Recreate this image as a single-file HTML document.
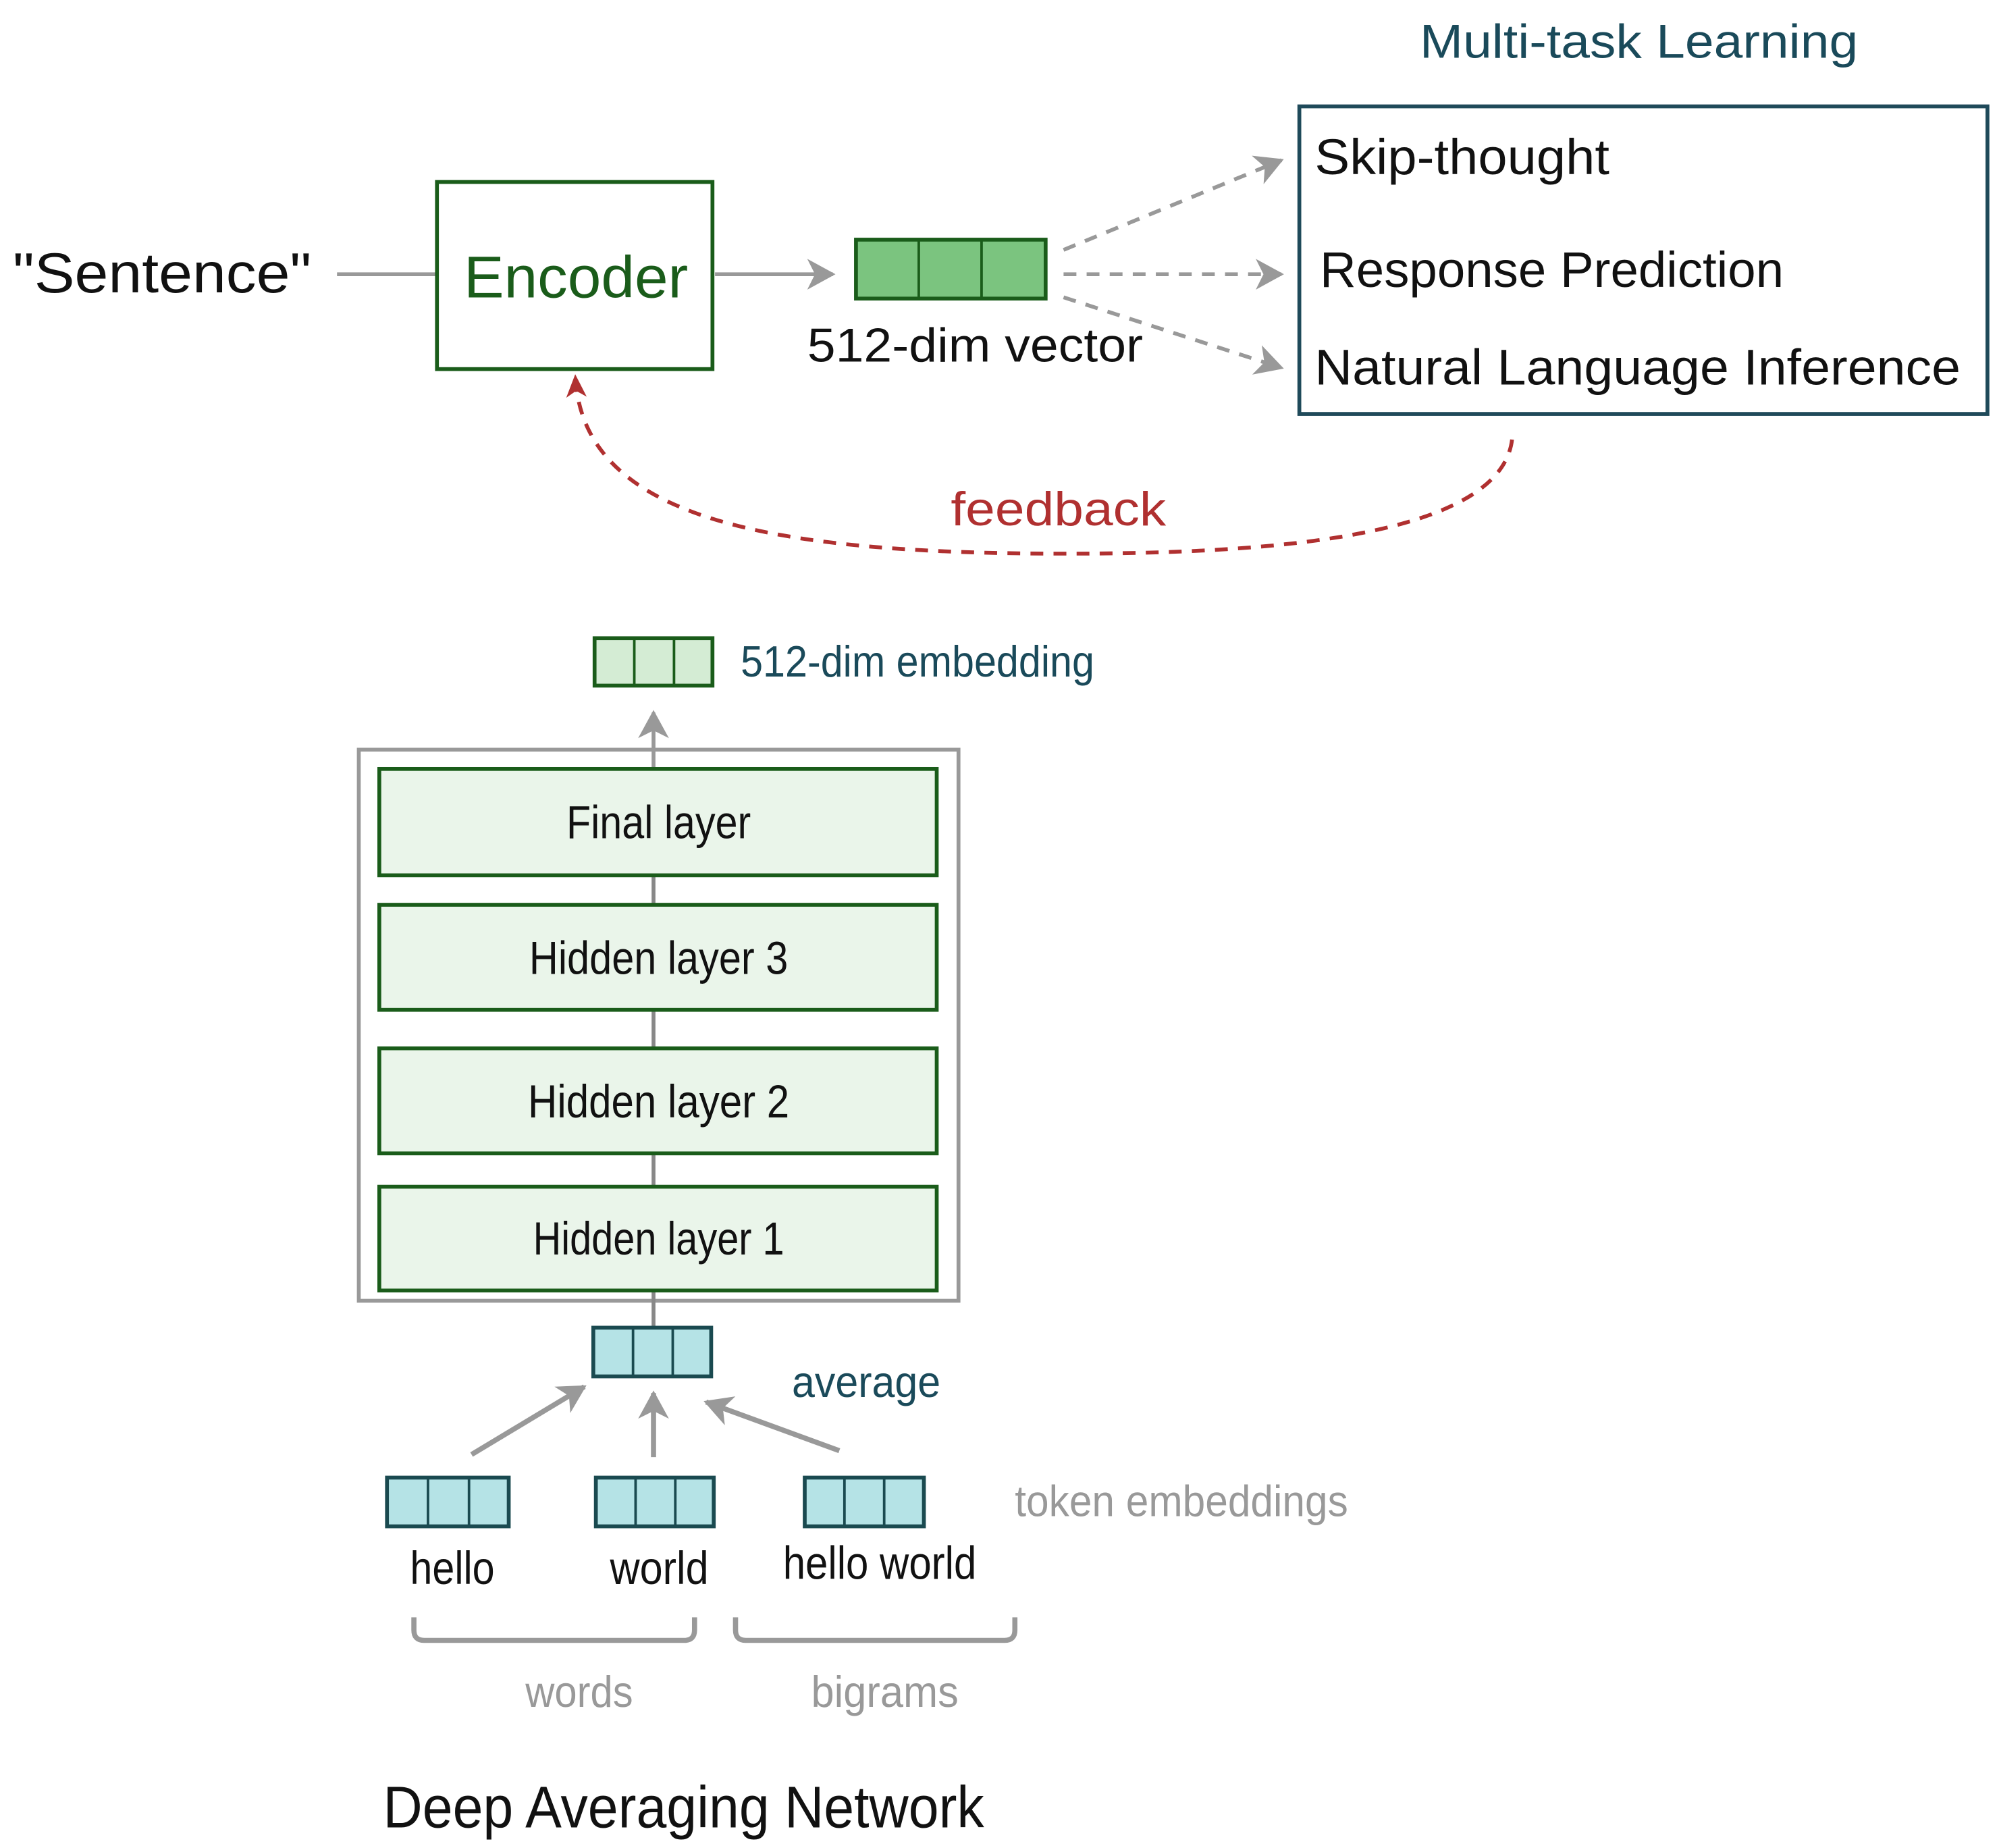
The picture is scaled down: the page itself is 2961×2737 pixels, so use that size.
<!DOCTYPE html>
<html><head><meta charset="utf-8"><style>
html,body{margin:0;padding:0;background:#fff;}
svg{display:block;}
text{font-family:"Liberation Sans","DejaVu Sans",sans-serif;}
</style></head><body>
<svg width="2961" height="2737" viewBox="0 0 1560 1442" xmlns="http://www.w3.org/2000/svg">
<defs>
<marker id="ag2" markerWidth="24" markerHeight="24" refX="20" refY="12" orient="auto" markerUnits="userSpaceOnUse"><path d="M0,0 L22,12 L0,24 L6,12 Z" fill="#999"/></marker>
<marker id="ar" markerWidth="20" markerHeight="20" refX="16" refY="10" orient="auto" markerUnits="userSpaceOnUse"><path d="M0,2 L18,10 L0,18 L5,10 Z" fill="#b03030"/></marker>
</defs>
<rect width="1560" height="1442" fill="#fff"/>
<text x="1108" y="45" font-size="37" fill="#1a4a5a" textLength="342" lengthAdjust="spacingAndGlyphs">Multi-task Learning</text>
<rect x="1014" y="83" width="537" height="240" fill="none" stroke="#1f4a5a" stroke-width="3"/>
<text x="1026" y="136" font-size="39" fill="#111" textLength="230" lengthAdjust="spacingAndGlyphs">Skip-thought</text>
<text x="1030" y="224" font-size="39" fill="#111" textLength="362" lengthAdjust="spacingAndGlyphs">Response Prediction</text>
<text x="1026" y="300" font-size="39" fill="#111" textLength="504" lengthAdjust="spacingAndGlyphs">Natural Language Inference</text>
<text x="10" y="228" font-size="44" fill="#111" textLength="233" lengthAdjust="spacingAndGlyphs">"Sentence"</text>
<line x1="263" y1="214" x2="340" y2="214" stroke="#999" stroke-width="3"/>
<rect x="341" y="142" width="215" height="146" fill="#fff" stroke="#1a5c1a" stroke-width="3"/>
<text x="362" y="232" font-size="46" fill="#1a5c1a" textLength="175" lengthAdjust="spacingAndGlyphs">Encoder</text>
<line x1="558" y1="214" x2="650" y2="214" stroke="#999" stroke-width="3" marker-end="url(#ag2)"/>
<rect x="668" y="187" width="148" height="46" fill="#7bc47f" stroke="#1a5c1a" stroke-width="3"/>
<line x1="717" y1="187" x2="717" y2="233" stroke="#1a5c1a" stroke-width="2"/>
<line x1="766" y1="187" x2="766" y2="233" stroke="#1a5c1a" stroke-width="2"/>
<text x="630" y="282" font-size="37" fill="#111" textLength="262" lengthAdjust="spacingAndGlyphs">512-dim vector</text>
<g stroke="#999" stroke-width="3" stroke-dasharray="10,8" fill="none">
<line x1="830" y1="195" x2="1000" y2="125" marker-end="url(#ag2)"/>
<line x1="830" y1="214" x2="1000" y2="214" marker-end="url(#ag2)"/>
<line x1="830" y1="232" x2="1000" y2="287" marker-end="url(#ag2)"/>
</g>
<path d="M1180,343 C1170,425 960,432 830,432 C600,432 455,405 449,294" fill="none" stroke="#b03030" stroke-width="3" stroke-dasharray="10,8" marker-end="url(#ar)"/>
<text x="742" y="410" font-size="37" fill="#b03030" textLength="168" lengthAdjust="spacingAndGlyphs">feedback</text>
<rect x="464" y="498" width="92" height="37" fill="#d4ecd4" stroke="#1a5c1a" stroke-width="3"/>
<line x1="495" y1="498" x2="495" y2="535" stroke="#1a5c1a" stroke-width="2"/>
<line x1="526" y1="498" x2="526" y2="535" stroke="#1a5c1a" stroke-width="2"/>
<text x="578" y="528" font-size="34" fill="#1a4a5a" textLength="276" lengthAdjust="spacingAndGlyphs">512-dim embedding</text>
<line x1="510" y1="600" x2="510" y2="556" stroke="#999" stroke-width="3" marker-end="url(#ag2)"/>
<rect x="280" y="585" width="468" height="430" fill="none" stroke="#999" stroke-width="3"/>
<line x1="510" y1="683" x2="510" y2="1036" stroke="#888" stroke-width="3"/>
<g fill="#eaf5ea" stroke="#1a5c1a" stroke-width="3">
<rect x="296" y="600" width="435" height="83"/>
<rect x="296" y="706" width="435" height="82"/>
<rect x="296" y="818" width="435" height="82"/>
<rect x="296" y="926" width="435" height="81"/>
</g>
<g font-size="36" fill="#111">
<text x="442" y="654" textLength="144" lengthAdjust="spacingAndGlyphs">Final layer</text>
<text x="413" y="760" textLength="202" lengthAdjust="spacingAndGlyphs">Hidden layer 3</text>
<text x="412" y="872" textLength="204" lengthAdjust="spacingAndGlyphs">Hidden layer 2</text>
<text x="416" y="979" textLength="196" lengthAdjust="spacingAndGlyphs">Hidden layer 1</text>
</g>
<g fill="#b5e3e6" stroke="#1a4a50" stroke-width="3">
<rect x="463" y="1036" width="92" height="38"/>
<rect x="302" y="1153" width="95" height="38"/>
<rect x="465" y="1153" width="92" height="38"/>
<rect x="628" y="1153" width="93" height="38"/>
</g>
<g stroke="#1a4a50" stroke-width="2">
<line x1="494" y1="1036" x2="494" y2="1074"/><line x1="525" y1="1036" x2="525" y2="1074"/>
<line x1="334" y1="1153" x2="334" y2="1191"/><line x1="366" y1="1153" x2="366" y2="1191"/>
<line x1="496" y1="1153" x2="496" y2="1191"/><line x1="527" y1="1153" x2="527" y2="1191"/>
<line x1="659" y1="1153" x2="659" y2="1191"/><line x1="690" y1="1153" x2="690" y2="1191"/>
</g>
<text x="618" y="1090" font-size="34" fill="#1a4a5a" textLength="116" lengthAdjust="spacingAndGlyphs">average</text>
<g stroke="#999" stroke-width="4" fill="none">
<line x1="368" y1="1135" x2="456" y2="1082" marker-end="url(#ag2)"/>
<line x1="510" y1="1137" x2="510" y2="1087" marker-end="url(#ag2)"/>
<line x1="655" y1="1132" x2="551" y2="1094" marker-end="url(#ag2)"/>
</g>
<text x="792" y="1183" font-size="34" fill="#999" textLength="260" lengthAdjust="spacingAndGlyphs">token embeddings</text>
<g font-size="36" fill="#111">
<text x="320" y="1236" textLength="66" lengthAdjust="spacingAndGlyphs">hello</text>
<text x="476" y="1236" textLength="77" lengthAdjust="spacingAndGlyphs">world</text>
<text x="611" y="1232" textLength="151" lengthAdjust="spacingAndGlyphs">hello world</text>
</g>
<g stroke="#999" stroke-width="4" fill="none">
<path d="M323,1262 L323,1272 Q323,1280 331,1280 L534,1280 Q542,1280 542,1272 L542,1262"/>
<path d="M574,1262 L574,1272 Q574,1280 582,1280 L784,1280 Q792,1280 792,1272 L792,1262"/>
</g>
<text x="410" y="1332" font-size="34" fill="#999" textLength="84" lengthAdjust="spacingAndGlyphs">words</text>
<text x="633" y="1332" font-size="34" fill="#999" textLength="115" lengthAdjust="spacingAndGlyphs">bigrams</text>
<text x="299" y="1426" font-size="46" fill="#111" textLength="469" lengthAdjust="spacingAndGlyphs">Deep Averaging Network</text>
</svg>
</body></html>
